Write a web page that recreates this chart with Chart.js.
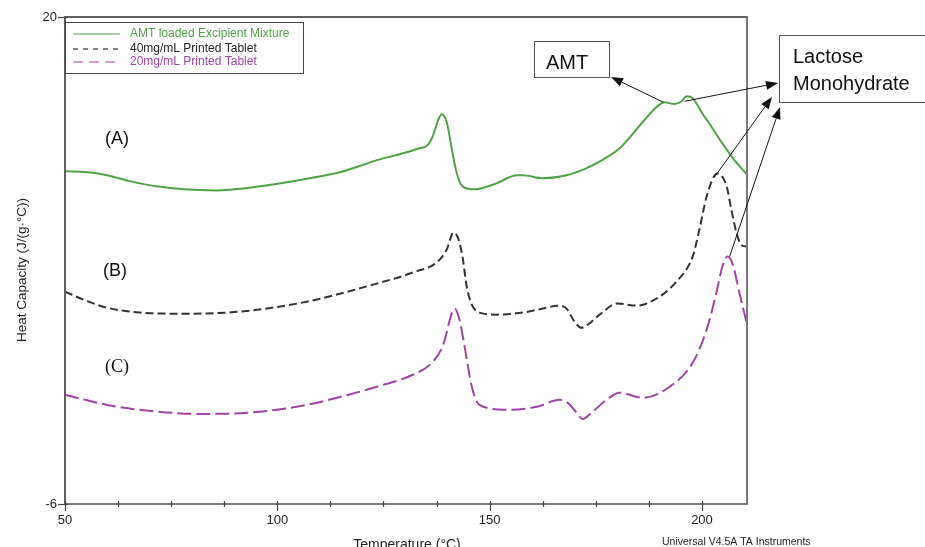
<!DOCTYPE html>
<html>
<head>
<meta charset="utf-8">
<script src="https://cdn.jsdelivr.net/npm/chart.js@4.4.0/dist/chart.umd.min.js"></script>
<style>
html,body{margin:0;padding:0;background:#fff;}
#wrap{width:925px;height:547px;position:relative;}
</style>
</head>
<body>
<div id="wrap"><canvas id="c" width="925" height="547"></canvas></div>
<script>
// ---- data (temperature °C, heat capacity J/(g·°C)) ----
const seriesLabels = ["AMT loaded Excipient Mixture", "40mg/mL Printed Tablet", "20mg/mL Printed Tablet"];
const tempA = [50, 55, 59.9, 65, 71.6, 78, 85.8, 92, 98.9, 106, 114.7, 124.1, 128.8, 133.5, 135.2, 136.6, 137.8, 138.7, 139.9, 141.1, 142.2, 143.6, 146.5, 151.6, 156.4, 157.8, 162.5, 168.1, 174.2, 180.6, 186, 189.5, 191.2, 193.5, 195.2, 196.4, 197.8, 200.1, 202.5, 204.8, 207.5, 210.5];
const capA  = [11.76, 11.72, 11.55, 11.25, 10.96, 10.8, 10.74, 10.85, 11.06, 11.33, 11.71, 12.4, 12.67, 12.99, 13.12, 13.63, 14.44, 14.81, 14.38, 12.94, 11.71, 10.96, 10.8, 11.12, 11.55, 11.55, 11.39, 11.55, 12.08, 12.99, 14.38, 15.24, 15.45, 15.35, 15.5, 15.77, 15.67, 14.85, 14.05, 13.25, 12.4, 11.6];
const tempB = [50, 55, 59.9, 67.6, 77.8, 91.2, 106.9, 122.5, 131.9, 137.8, 139.9, 141.5, 142.5, 143.6, 144.6, 145.8, 147.6, 151.6, 157.8, 163.4, 166, 168.1, 170, 171.6, 173.1, 175.9, 180.1, 184.6, 190, 194, 197.8, 199.4, 201.1, 203.6, 205.8, 206.9, 208.1, 209.2, 210.4];
const capB  = [5.34, 4.85, 4.48, 4.22, 4.16, 4.27, 4.8, 5.71, 6.36, 6.95, 7.59, 8.5, 8.23, 7.21, 5.61, 4.64, 4.22, 4.11, 4.22, 4.48, 4.59, 4.43, 3.73, 3.41, 3.57, 4.11, 4.7, 4.59, 5.07, 5.88, 7.21, 8.66, 10.42, 11.65, 10.96, 9.73, 8.5, 7.85, 7.75];
const tempC = [50, 55, 59.9, 67.6, 81.8, 92.8, 106.9, 117, 124, 131.9, 136.4, 138.9, 141.8, 142.9, 144.1, 145.8, 147.6, 154, 161.1, 166.5, 168.4, 170.5, 171.9, 174, 177.5, 180.6, 186, 192.4, 197.8, 201.1, 203.4, 204.8, 206, 207.1, 208.8, 210.5];
const capC  = [-0.17, -0.45, -0.71, -0.97, -1.19, -1.13, -0.71, -0.15, 0.3, 0.9, 1.54, 2.4, 4.43, 3.84, 2.4, 0.26, -0.71, -0.97, -0.81, -0.44, -0.6, -1.13, -1.46, -1.13, -0.44, -0.06, -0.33, 0.26, 1.54, 3.31, 5.29, 6.68, 7.21, 6.89, 5.29, 3.68];
const xTickLabels = [50, 100, 150, 200];
const xMinorTicks = [62.5, 75, 87.5, 112.5, 125, 137.5, 162.5, 175, 187.5];
const yTickLabels = [20, -6];
const curveLabels = ["(A)", "(B)", "(C)"];
const annotationTexts = ["AMT", "Lactose", "Monohydrate"];
// arrow tails anchored to data points [temp, cap]
const arrowTails = [[190.9, 15.45], [195.9, 15.5], [202.9, 11.44], [206.5, 7.21]];

const COL_A = '#4fa346', COL_B = '#333333', COL_C = '#a043a8';
const pts = (xs, ys) => xs.map((x, i) => ({x: x, y: ys[i]}));

const overlay = {
  id: 'overlay',
  beforeDraw(chart) {
    const ctx = chart.ctx;
    ctx.save(); ctx.fillStyle = '#fff'; ctx.fillRect(0, 0, chart.width, chart.height); ctx.restore();
  },
  afterDraw(chart) {
    const ctx = chart.ctx, a = chart.chartArea;
    const xs = chart.scales.x, ys = chart.scales.y;
    ctx.save();
    // frame
    ctx.strokeStyle = '#7a7a7a'; ctx.lineWidth = 2;
    ctx.strokeRect(a.left, a.top, a.right - a.left, a.bottom - a.top);
    ctx.strokeStyle = '#444'; ctx.lineWidth = 1;
    ctx.beginPath(); ctx.moveTo(a.left, a.top); ctx.lineTo(a.right, a.top); ctx.stroke();
    ctx.beginPath(); ctx.moveTo(a.left, a.top); ctx.lineTo(a.left, a.bottom); ctx.stroke();
    // x ticks
    ctx.strokeStyle = '#444'; ctx.lineWidth = 1.2;
    xTickLabels.forEach(v => { const px = Math.round(xs.getPixelForValue(v)) + 0.5; ctx.beginPath(); ctx.moveTo(px, a.bottom - 3); ctx.lineTo(px, a.bottom + 7); ctx.stroke(); });
    xMinorTicks.forEach(v => { const px = Math.round(xs.getPixelForValue(v)) + 0.5; ctx.beginPath(); ctx.moveTo(px, a.bottom - 3); ctx.lineTo(px, a.bottom + 3); ctx.stroke(); });
    yTickLabels.forEach(v => { const py = Math.round(ys.getPixelForValue(v)) + 0.5; ctx.beginPath(); ctx.moveTo(a.left - 7, py); ctx.lineTo(a.left + 3, py); ctx.stroke(); });
    ctx.fillStyle = '#222'; ctx.font = '13px "Liberation Sans", Arial, sans-serif';
    ctx.textAlign = 'center'; ctx.textBaseline = 'middle';
    xTickLabels.forEach(v => ctx.fillText(String(v), xs.getPixelForValue(v), a.bottom + 16));
    ctx.textAlign = 'right'; ctx.textBaseline = 'middle';
    yTickLabels.forEach(v => ctx.fillText(String(v), a.left - 8, ys.getPixelForValue(v)));
    // axis titles
    ctx.font = '14px "Liberation Sans", Arial, sans-serif'; ctx.fillStyle = '#222';
    ctx.textAlign = 'center'; ctx.textBaseline = 'alphabetic';
    ctx.fillText('Temperature (°C)', 407, 549);
    ctx.save(); ctx.translate(26, 270); ctx.rotate(-Math.PI / 2);
    ctx.font = '13.5px "Liberation Sans", Arial, sans-serif';
    ctx.fillText('Heat Capacity (J/(g·°C))', 0, 0); ctx.restore();
    ctx.font = '10.5px "Liberation Sans Narrow", "Liberation Sans", Arial, sans-serif';
    ctx.textAlign = 'left';
    ctx.fillText('Universal V4.5A TA Instruments', 662, 545);
    // legend
    ctx.strokeStyle = '#444'; ctx.lineWidth = 1;
    ctx.strokeRect(65.5, 22.5, 238, 51);
    const rows = [34, 49, 62];
    chart.data.datasets.forEach((ds, i) => {
      ctx.strokeStyle = ds.borderColor; ctx.lineWidth = 1.2;
      ctx.setLineDash(i === 0 ? [] : (i === 1 ? [5, 5] : [10, 6]));
      ctx.beginPath(); ctx.moveTo(73, rows[i]); ctx.lineTo(120, rows[i]); ctx.stroke();
      ctx.setLineDash([]);
      ctx.fillStyle = i === 1 ? '#222' : ds.borderColor;
      ctx.font = '12px "Liberation Sans", Arial, sans-serif';
      ctx.textAlign = 'left'; ctx.textBaseline = 'middle';
      ctx.fillText(ds.label, 130, rows[i]);
    });
    // curve labels
    ctx.fillStyle = '#111'; ctx.textBaseline = 'middle'; ctx.textAlign = 'left';
    ctx.font = '18px "Liberation Sans", Arial, sans-serif';
    ctx.fillText(curveLabels[0], 105, 139);
    ctx.fillText(curveLabels[1], 103, 271);
    ctx.font = '18px "Liberation Serif", "Times New Roman", serif';
    ctx.fillText(curveLabels[2], 105, 367);
    // annotation boxes
    ctx.strokeStyle = '#555'; ctx.lineWidth = 1;
    ctx.strokeRect(534.5, 41.5, 75, 36);
    ctx.strokeRect(779.5, 35.5, 150, 67);
    ctx.fillStyle = '#111'; ctx.font = '20px "Liberation Sans", Arial, sans-serif';
    ctx.textBaseline = 'alphabetic';
    ctx.fillText(annotationTexts[0], 546, 69);
    ctx.fillText(annotationTexts[1], 793, 63);
    ctx.fillText(annotationTexts[2], 793, 90);
    // arrows
    const heads = [[611, 77], [778, 83], [772, 97], [780, 107]];
    arrowTails.forEach((t, i) => {
      const x0 = xs.getPixelForValue(t[0]), y0 = ys.getPixelForValue(t[1]);
      const [x1, y1] = heads[i];
      const ang = Math.atan2(y1 - y0, x1 - x0), L = 12, W = 4.5;
      const bx = x1 - L * Math.cos(ang), by = y1 - L * Math.sin(ang);
      ctx.strokeStyle = '#111'; ctx.lineWidth = 1;
      ctx.beginPath(); ctx.moveTo(x0, y0); ctx.lineTo(bx, by); ctx.stroke();
      ctx.fillStyle = '#111';
      ctx.beginPath(); ctx.moveTo(x1, y1);
      ctx.lineTo(bx + W * Math.sin(ang), by - W * Math.cos(ang));
      ctx.lineTo(bx - W * Math.sin(ang), by + W * Math.cos(ang));
      ctx.closePath(); ctx.fill();
    });
    ctx.restore();
  }
};

new Chart(document.getElementById('c'), {
  type: 'line',
  data: {
    datasets: [
      {label: seriesLabels[0], data: pts(tempA, capA), borderColor: COL_A, borderWidth: 2, pointRadius: 0, fill: false, cubicInterpolationMode: 'monotone'},
      {label: seriesLabels[1], data: pts(tempB, capB), borderColor: COL_B, borderWidth: 2, borderDash: [8, 4], pointRadius: 0, fill: false, cubicInterpolationMode: 'monotone'},
      {label: seriesLabels[2], data: pts(tempC, capC), borderColor: COL_C, borderWidth: 2, borderDash: [14, 5], pointRadius: 0, fill: false, cubicInterpolationMode: 'monotone'}
    ]
  },
  options: {
    responsive: false,
    animation: false,
    layout: {padding: {left: 65, right: 178, top: 17, bottom: 43}},
    plugins: {legend: {display: false}, tooltip: {enabled: false}},
    scales: {
      x: {type: 'linear', min: 50, max: 210.6, display: false},
      y: {type: 'linear', min: -6, max: 20, display: false}
    }
  },
  plugins: [overlay]
});
</script>
</body>
</html>
